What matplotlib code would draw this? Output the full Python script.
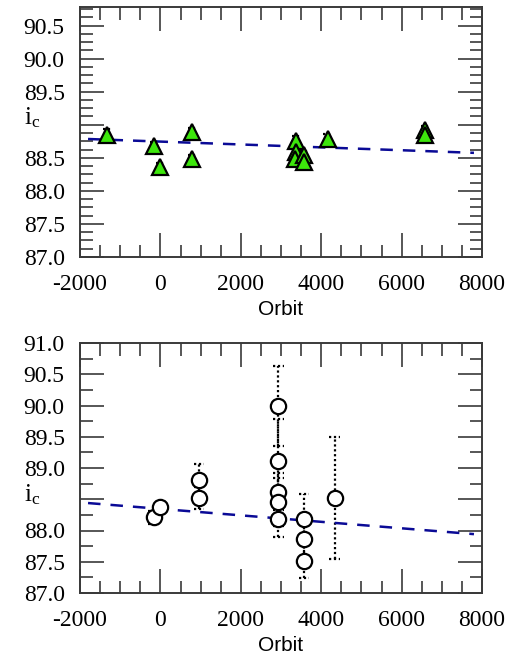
import matplotlib
matplotlib.use('Agg')
import matplotlib.pyplot as plt
import numpy as np
from matplotlib.ticker import MultipleLocator, FixedLocator, FixedFormatter

plt.rcParams['axes.unicode_minus'] = False

# ---------------- data ----------------
top_orbit = [-1325, -158, 0, 792, 792, 3375, 3375, 3350, 3583, 3583, 4167, 6583, 6583]
top_ic = [88.85, 88.68, 88.36, 88.89, 88.48, 88.75, 88.59, 88.48, 88.54, 88.44, 88.78, 88.92, 88.84]
top_err = [0.08, 0.06, 0.06, 0.06, 0.06, 0.08, 0.06, 0.06, 0.06, 0.06, 0.08, 0.06, 0.06]
top_fit_intercept = 88.745
top_fit_slope = -2.18e-5

bot_orbit = [-167, 0, 958, 958, 2933, 2933, 2933, 2933, 2933, 3567, 3567, 3567, 4333]
bot_ic = [88.21, 88.38, 88.81, 88.52, 89.99, 89.12, 88.62, 88.46, 88.19, 88.19, 87.87, 87.51, 88.52]
bot_err = [0.1, 0.08, 0.26, 0.17, 0.64, 0.66, 0.3, 0.38, 0.3, 0.4, 0.3, 0.27, 0.97]
bot_fit_intercept = 88.346
bot_fit_slope = -5.18e-5

fit_range = [-1800, 7800]
x_ticks = [-2000, 0, 2000, 4000, 6000, 8000]
top_yticks = [87.0, 87.5, 88.0, 88.5, 89.0, 89.5, 90.0, 90.5]
top_ylabels = ['87.0', '87.5', '88.0', '88.5', '', '89.5', '90.0', '90.5']
bot_yticks = [87.0, 87.5, 88.0, 88.5, 89.0, 89.5, 90.0, 90.5, 91.0]
bot_ylabels = ['87.0', '87.5', '88.0', '', '89.0', '89.5', '90.0', '90.5', '91.0']

SERIF = 'Liberation Serif'
SANS = 'Liberation Sans'
spine_col = '#3a3a3a'

fig = plt.figure(figsize=(5.16, 6.57), dpi=100)
ax1 = fig.add_axes([80/516, 1-257/657, 402/516, 250/657])
ax2 = fig.add_axes([80/516, 1-593/657, 402/516, 250/657])


def style(ax, yticks, ylabels, ymin, ymax, yminor, label_y):
    ax.set_xlim(-2000, 8000)
    ax.set_ylim(ymin, ymax)
    ax.xaxis.set_major_locator(FixedLocator(x_ticks))
    ax.xaxis.set_major_formatter(FixedFormatter([str(v) for v in x_ticks]))
    ax.xaxis.set_minor_locator(MultipleLocator(500))
    ax.yaxis.set_major_locator(FixedLocator(yticks))
    ax.yaxis.set_major_formatter(FixedFormatter(ylabels))
    ax.yaxis.set_minor_locator(MultipleLocator(yminor))
    ax.tick_params(which='both', direction='in', top=True, right=True,
                   color=spine_col, width=1.2)
    ax.tick_params(which='major', length=17)
    ax.tick_params(which='minor', length=9)
    ax.tick_params(axis='y', which='major', pad=11)
    ax.tick_params(axis='x', which='major', pad=12)
    for lab in ax.get_xticklabels() + ax.get_yticklabels():
        lab.set_fontfamily(SERIF)
        lab.set_fontsize(17)
    for s in ax.spines.values():
        s.set_color(spine_col)
        s.set_linewidth(1.4)
    ax.set_xlabel('Orbit', fontfamily=SANS, fontsize=15, labelpad=4)
    ax.text(-0.12, label_y, r'$\mathregular{i_c}$', transform=ax.get_yaxis_transform(),
            fontfamily=SERIF, fontsize=18, ha='center', va='center')


def dotted_errorbars(ax, x, y, err, capw=120):
    x = np.asarray(x, float); y = np.asarray(y, float); e = np.asarray(err, float)
    ax.vlines(x, y - e, y + e, colors='black', linestyles=(0, (1, 1.2)), linewidth=1.6, zorder=2)
    for sign in (-1, 1):
        ax.hlines(y + sign * e, x - capw, x + capw, colors='black',
                  linestyles=(0, (1, 1.2)), linewidth=1.6, zorder=2)


# ---------- top panel ----------
xf = np.array(fit_range, float)
dotted_errorbars(ax1, top_orbit, top_ic, top_err, capw=110)
ax1.plot(xf, top_fit_intercept + top_fit_slope * xf, color='#0a0a96', lw=1.8,
         ls=(0, (5, 4)), zorder=3)
ax1.plot(top_orbit, top_ic, ls='none', marker='^', ms=11, mfc='#3de60c',
         mec='black', mew=1.6, zorder=4)
style(ax1, top_yticks, top_ylabels, 87.0, 90.78, 0.125, 89.1)

# ---------- bottom panel ----------
dotted_errorbars(ax2, bot_orbit, bot_ic, bot_err, capw=130)
ax2.plot(xf, bot_fit_intercept + bot_fit_slope * xf, color='#0a0a96', lw=1.8,
         ls=(0, (5, 4)), zorder=3)
ax2.plot(bot_orbit, bot_ic, ls='none', marker='o', ms=11, mfc='white',
         mec='black', mew=1.6, zorder=4)
style(ax2, bot_yticks, bot_ylabels, 87.0, 91.0, 0.25, 88.57)

fig.savefig('out.png', dpi=100)
